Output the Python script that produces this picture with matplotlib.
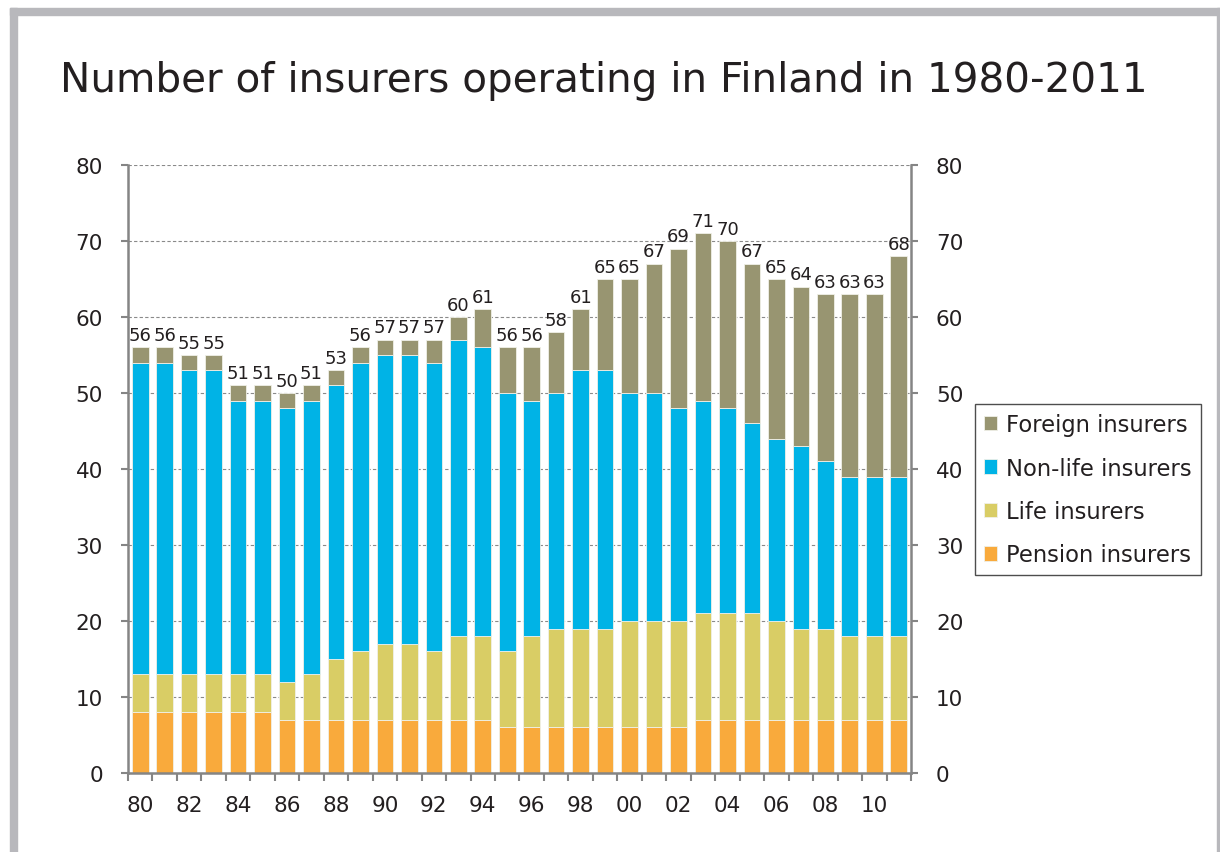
import matplotlib
matplotlib.use("Agg")
import matplotlib.pyplot as plt
from matplotlib.patches import Rectangle
import numpy as np

years = list(range(1980, 2012))
pension = [8, 8, 8, 8, 8, 8, 7, 7, 7, 7, 7, 7, 7, 7, 7, 6,
           6, 6, 6, 6, 6, 6, 6, 7, 7, 7, 7, 7, 7, 7, 7, 7]
life = [5, 5, 5, 5, 5, 5, 5, 6, 8, 9, 10, 10, 9, 11, 11, 10,
        12, 13, 13, 13, 14, 14, 14, 14, 14, 14, 13, 12, 12, 11, 11, 11]
nonlife = [41, 41, 40, 40, 36, 36, 36, 36, 36, 38, 38, 38, 38, 39, 38, 34,
           31, 31, 34, 34, 30, 30, 28, 28, 27, 25, 24, 24, 22, 21, 21, 21]
foreign = [2, 2, 2, 2, 2, 2, 2, 2, 2, 2, 2, 2, 3, 3, 5, 6,
           7, 8, 8, 12, 15, 17, 21, 22, 22, 21, 21, 21, 22, 24, 24, 29]
year_labels = ["80", "82", "84", "86", "88", "90", "92", "94",
               "96", "98", "00", "02", "04", "06", "08", "10"]

c_pension = "#F9AA3C"
c_life = "#D9CD65"
c_nonlife = "#00B3E6"
c_foreign = "#989571"
txt = "#231F20"
axcol = "#858585"

plt.rcParams['font.family'] = ['DejaVu Sans']

fig = plt.figure(figsize=(12.2, 8.53), dpi=100)
ax = fig.add_axes([0.1049, 0.0926, 0.6418, 0.7128])

x = np.arange(len(years))
w = 0.68
ec = dict(edgecolor="#f0f0e8", linewidth=0.6)
b1 = ax.bar(x, pension, w, color=c_pension, label="Pension insurers", **ec)
bottom = np.array(pension)
b2 = ax.bar(x, life, w, bottom=bottom, color=c_life, label="Life insurers", **ec)
bottom = bottom + np.array(life)
b3 = ax.bar(x, nonlife, w, bottom=bottom, color=c_nonlife, label="Non-life insurers", **ec)
bottom = bottom + np.array(nonlife)
b4 = ax.bar(x, foreign, w, bottom=bottom, color=c_foreign, label="Foreign insurers", **ec)
totals = bottom + np.array(foreign)

for xi, t in zip(x, totals):
    ax.text(xi, t + 0.45, str(t), ha="center", va="bottom", fontsize=13, color=txt)

ax.set_xlim(-0.5, len(years) - 0.5)
ax.set_ylim(0, 80)
ax.set_yticks(range(0, 81, 10))
ax.yaxis.grid(True, linestyle=(0, (3, 2)), color="#8a8a8a", linewidth=0.8)
ax.set_axisbelow(True)

ax.set_xticks(np.arange(-0.5, len(years), 1))
ax.set_xticklabels([])
ax.set_xticks(x[::2], minor=True)
ax.set_xticklabels(year_labels, minor=True)
ax.tick_params(axis="x", which="major", length=6, width=1.5, color=axcol, direction="out")
ax.tick_params(axis="x", which="minor", length=0, pad=16, labelsize=15.5, labelcolor=txt)
ax.tick_params(axis="y", length=5, width=1.5, color=axcol, pad=13, labelsize=15.5,
               labelcolor=txt, right=True, labelright=True, direction="out")

for s in ["left", "right", "bottom"]:
    ax.spines[s].set_color(axcol)
    ax.spines[s].set_linewidth(1.8)
ax.spines["top"].set_visible(False)

handles = [b4, b3, b2, b1]
leg = fig.legend(handles, [h.get_label() for h in handles],
                 loc="upper left", bbox_to_anchor=(0.799, 0.525),
                 fontsize=16.3, frameon=True, fancybox=False,
                 handlelength=0.6, handleheight=0.6, handletextpad=0.4,
                 labelspacing=0.9, borderpad=0.4, borderaxespad=0)
leg.get_frame().set_edgecolor("#222222")
leg.get_frame().set_linewidth(1.0)
for t in leg.get_texts():
    t.set_color(txt)

fig.text(0.049, 0.905, "Number of insurers operating in Finland in 1980-2011",
         fontsize=29.2, color=txt, ha="left", va="center")

# grey frame around the slide
fig.patches.append(Rectangle((10 / 1220, 0), 7 / 1220, 1 - 9 / 853,
                             transform=fig.transFigure, color="#B8B8BC", zorder=0))
fig.patches.append(Rectangle((10 / 1220, 1 - 16 / 853), 1 - 10 / 1220, 7 / 853,
                             transform=fig.transFigure, color="#B8B8BC", zorder=0))
fig.patches.append(Rectangle((1 - 3 / 1220, 0), 3 / 1220, 1 - 9 / 853,
                             transform=fig.transFigure, color="#B8B8BC", zorder=0))

fig.savefig("out.png", dpi=100)
